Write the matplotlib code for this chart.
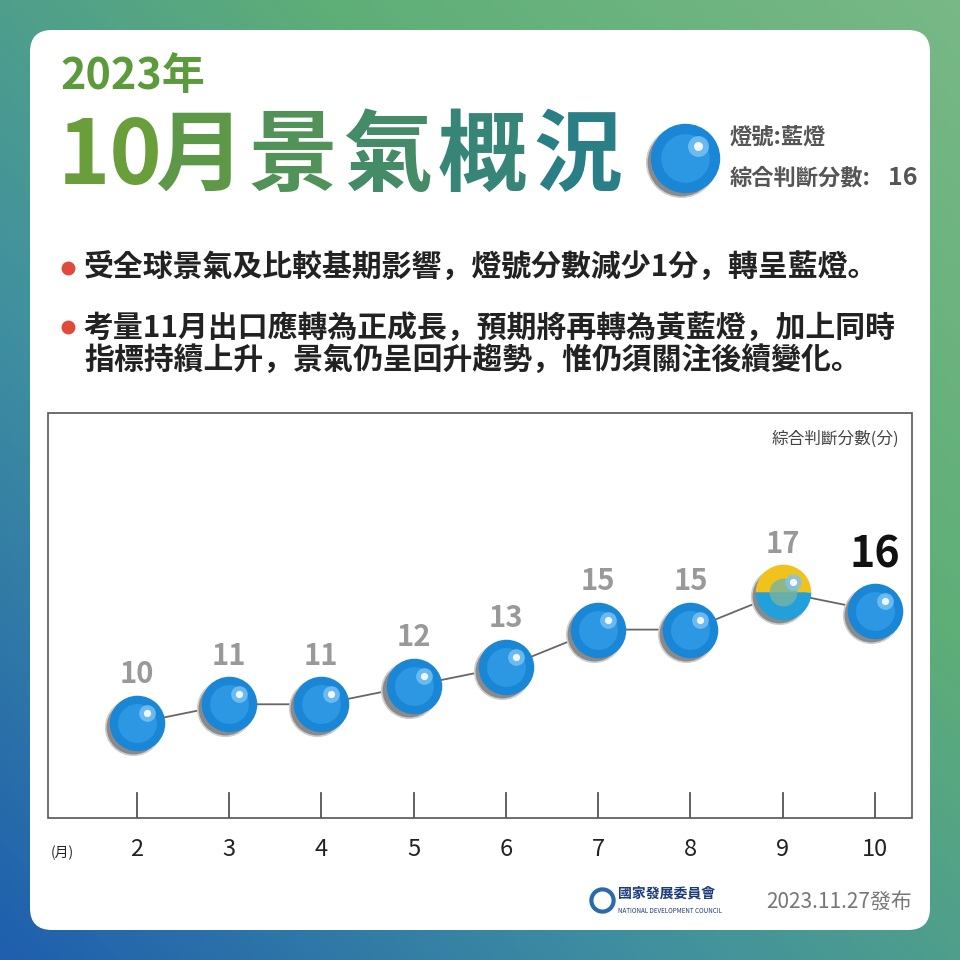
import numpy as np
import matplotlib
matplotlib.use('Agg')
import matplotlib.pyplot as plt
import matplotlib.transforms as mtrans
from matplotlib import font_manager
from matplotlib.patches import FancyBboxPatch, Rectangle
from matplotlib.colors import LinearSegmentedColormap, to_rgb

cjk = [f.name for f in font_manager.fontManager.ttflist if 'CJK' in f.name]
pref = [n for n in ['Noto Sans CJK TC', 'Noto Sans CJK JP', 'Noto Sans CJK SC'] if n in cjk] or cjk[:1]
plt.rcParams['font.family'] = pref + ['DejaVu Sans']

months = [2, 3, 4, 5, 6, 7, 8, 9, 10]
scores = [10, 11, 11, 12, 13, 15, 15, 17, 16]
lights = ['blue', 'blue', 'blue', 'blue', 'blue', 'blue', 'blue', 'yellowblue', 'blue']
bullets = ['受全球景氣及比較基期影響，燈號分數減少1分，轉呈藍燈。',
           '考量11月出口應轉為正成長，預期將再轉為黃藍燈，加上同時\n指標持續上升，景氣仍呈回升趨勢，惟仍須關注後續變化。']

fig = plt.figure(figsize=(9.6, 9.6), dpi=100)

# gradient background
bg = fig.add_axes([0, 0, 1, 1])
yy, xx = np.mgrid[0:1:200j, 0:1:200j]
t = np.clip((xx - yy + 1) / 2, 0, 1)
cmap = LinearSegmentedColormap.from_list('bg', ['#1f5fae', '#3f8fa0', '#5eae78', '#78b886'])
bg.imshow(t, cmap=cmap, extent=[0, 960, 960, 0], aspect='auto')
bg.set_xlim(0, 960)
bg.set_ylim(960, 0)
bg.axis('off')
bg.add_patch(FancyBboxPatch((30, 30), 900, 900, boxstyle='round,pad=0,rounding_size=22',
                            fc='white', ec='none'))

# title
bg.text(60, 76, '2023年', fontsize=31, fontweight='bold', color='#5b9b3c', va='center')
title = ['10', '月', '景', '氣', '概', '況']
c0, c1 = np.array(to_rgb('#6a9e3a')), np.array(to_rgb('#2a7f86'))
xpos = [58, 155, 248, 343, 438, 533]
for i, ch in enumerate(title):
    col = c0 + (c1 - c0) * i / (len(title) - 1)
    bg.text(xpos[i], 158, ch, fontsize=64, fontweight='heavy', color=col, va='center')
bg.text(730, 137, '燈號:藍燈', fontsize=16, fontweight='bold', color='#555555', va='center')
bg.text(730, 178, '綜合判斷分數:', fontsize=16, fontweight='bold', color='#555555', va='center')
bg.text(918, 178, '16', fontsize=18, fontweight='heavy', color='#555555', va='center', ha='right')

def ball(ax, x, y, size, kind):
    tr = ax.transData
    sh = mtrans.offset_copy(tr, fig=fig, x=-3, y=-3, units='points')
    ax.plot(x, y, 'o', ms=size, mfc='#8a8a8a', mec='#cfcfcf', mew=1.2, transform=sh, zorder=4)
    if kind == 'yellowblue':
        ax.plot(x, y, 'o', ms=size, fillstyle='top', mfc='#f2c21c', mfcalt='#22a0dc',
                mec='none', transform=tr, zorder=5)
        ax.plot(x, y, 'o', ms=size * 0.5, mfc='#79b3a0', mec='none', alpha=0.8, transform=tr, zorder=5)
    else:
        ax.plot(x, y, 'o', ms=size, mfc='#1a86d6', mec='none', transform=tr, zorder=5)
        ax.plot(x, y, 'o', ms=size * 0.7, mfc='#2c98e4', mec='none', transform=tr, zorder=5)
    hl = mtrans.offset_copy(tr, fig=fig, x=size * 0.18, y=size * 0.18, units='points')
    ax.plot(x, y, 'o', ms=size * 0.3, mfc='#7cc4f4', mec='none', alpha=0.8, transform=hl, zorder=6)
    ax.plot(x, y, 'o', ms=size * 0.13, mfc='white', mec='none', alpha=0.9, transform=hl, zorder=6)

ball(bg, 685, 158, 50, 'blue')

# bullets
bg.plot(68, 268, 'o', ms=9, color='#e04a3c')
bg.text(84, 268, bullets[0], fontsize=21.5, fontweight='bold', color='#222222', va='center')
bg.plot(68, 327, 'o', ms=9, color='#e04a3c')
bg.text(84, 344, bullets[1], fontsize=21.5, fontweight='bold', color='#222222', va='center',
        linespacing=1.1)

# chart box
bg.add_patch(Rectangle((48, 413), 864, 405, fc='white', ec='#555555', lw=1.2))
ax = fig.add_axes([48 / 960, (960 - 818) / 960, 864 / 960, 405 / 960])
ax.set_xlim(1.0381, 10.4011)
ax.set_ylim(4.91, 26.6)
ax.axis('off')
ax.text(0.985, 0.935, '綜合判斷分數(分)', transform=ax.transAxes, ha='right', va='center',
        fontsize=12, color='#444444')
ax.plot(months, scores, color='#666666', lw=1.3, zorder=3)
for m, s, k in zip(months, scores, lights):
    ball(ax, m, s, 40, k)
    last = m == months[-1]
    ax.text(m, s + (3.0 if last else 2.6), str(s), ha='center', va='center',
            fontsize=31 if last else 21, fontweight='heavy' if last else 'bold',
            color='#111111' if last else '#999999')
for m in months:
    ax.plot([m, m], [4.91, 6.25], color='#555555', lw=1.3)
    bg.text(137 + (m - 2) * 92.25, 849, str(m), fontsize=17, ha='center', va='center', color='#222222')
bg.text(62, 853, '(月)', fontsize=10, ha='center', va='center', color='#222222')

# footer
bg.text(618, 894, '國家發展委員會', fontsize=10, fontweight='bold', color='#1a3a7a', va='center')
bg.text(618, 911, 'NATIONAL DEVELOPMENT COUNCIL', fontsize=4.5, color='#1a3a7a', va='center')
bg.plot(602, 900, 'o', ms=16, mfc='none', mec='#2a6ab0', mew=3)
bg.text(912, 902, '2023.11.27發布', fontsize=15, color='#777777', ha='right', va='center')

fig.savefig('out.png', dpi=100)
